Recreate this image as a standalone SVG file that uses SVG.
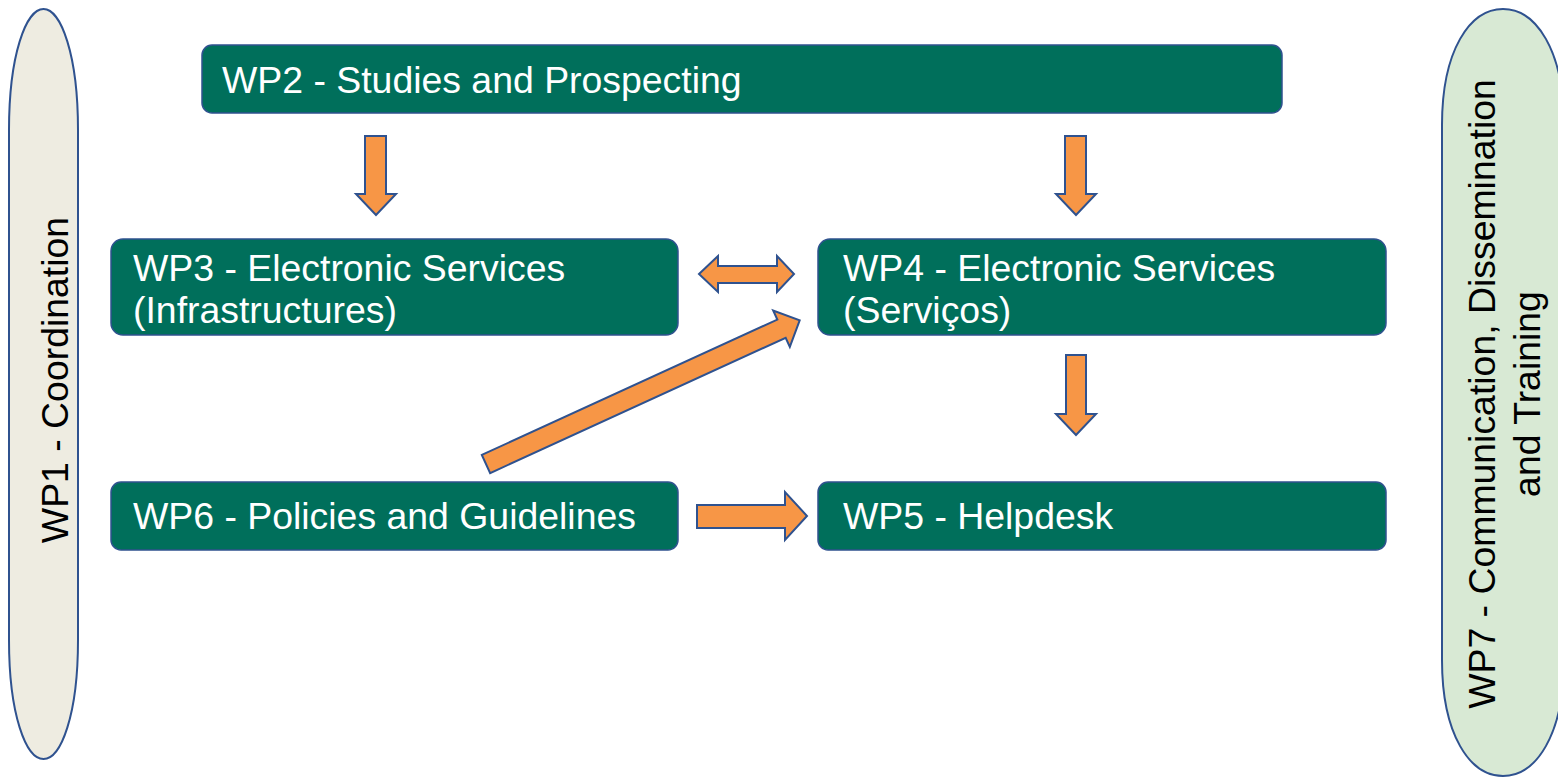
<svg xmlns="http://www.w3.org/2000/svg" width="1558" height="777" viewBox="0 0 1558 777">
<style>
.box{fill:#006F5B;stroke:#2F528F;stroke-width:1.5}
.bt{font-family:"Liberation Sans",Arial,sans-serif;font-size:37.4px;fill:#ffffff}
.st{font-family:"Liberation Sans",Arial,sans-serif;font-size:37.4px;fill:#000000}
.arr{fill:#F79646;stroke:#2F528F;stroke-width:2;stroke-linejoin:miter}
.lane{stroke:#2F528F;stroke-width:2}
</style>
<rect width="1558" height="777" fill="#ffffff"/>
<g id="wp1">
<path class="lane" fill="#EEECE1" d="M9,130 C9,55 26,9 43.5,9 C61,9 78,55 78,130 L78,640 C78,715 61,759 43.5,759 C26,759 9,715 9,640 Z"/>
<text class="st" text-anchor="middle" transform="translate(68,380) rotate(-90)">WP1 - Coordination</text>
</g>
<g id="wp7">
<path class="lane" fill="#D8E9D4" d="M1442,125 C1442,50 1470,9 1503,9 C1536,9 1564,50 1564,125 L1564,660 C1564,735 1536,776 1503,776 C1470,776 1442,735 1442,660 Z"/>
<text class="st" text-anchor="middle" transform="translate(1495,394) rotate(-90)">WP7 - Communication, Dissemination</text>
<text class="st" text-anchor="middle" transform="translate(1540,394) rotate(-90)">and Training</text>
</g>
<g id="wp2">
<rect class="box" x="202" y="45" width="1080" height="68" rx="10"/>
<text class="bt" x="222" y="93">WP2 - Studies and Prospecting</text>
</g>
<g id="wp3">
<rect class="box" x="111" y="239" width="567" height="96" rx="12"/>
<text class="bt" x="133" y="281">WP3 - Electronic Services</text>
<text class="bt" x="133" y="323">(Infrastructures)</text>
</g>
<g id="wp4">
<rect class="box" x="818" y="239" width="568" height="96" rx="12"/>
<text class="bt" x="843" y="281">WP4 - Electronic Services</text>
<text class="bt" x="843" y="323">(Serviços)</text>
</g>
<g id="wp6">
<rect class="box" x="111" y="482" width="567" height="68" rx="10"/>
<text class="bt" x="133" y="529">WP6 - Policies and Guidelines</text>
</g>
<g id="wp5">
<rect class="box" x="818" y="482" width="568" height="68" rx="10"/>
<text class="bt" x="843" y="529">WP5 - Helpdesk</text>
</g>
<g id="connectors">
<polygon class="arr" points="365,136 386,136 386,194 396,194 376,215 356,194 365,194"/>
<polygon class="arr" points="1065,136 1086,136 1086,194 1096,194 1076,215 1056,194 1065,194"/>
<polygon class="arr" points="1066,355 1086,355 1086,414 1096,414 1076,435 1056,414 1066,414"/>
<polygon class="arr" points="699,274 718,256 718,266 777,266 777,256 794,274 777,292 777,283 718,283 718,292"/>
<polygon class="arr" points="697,505 785,505 785,492 807,516 785,540 785,528 697,528"/>
<polygon class="arr" transform="translate(486,464) rotate(-24.6)" points="0,-10 325,-10 325,-20 345,0 325,20 325,10 0,10"/>
</g>
</svg>
